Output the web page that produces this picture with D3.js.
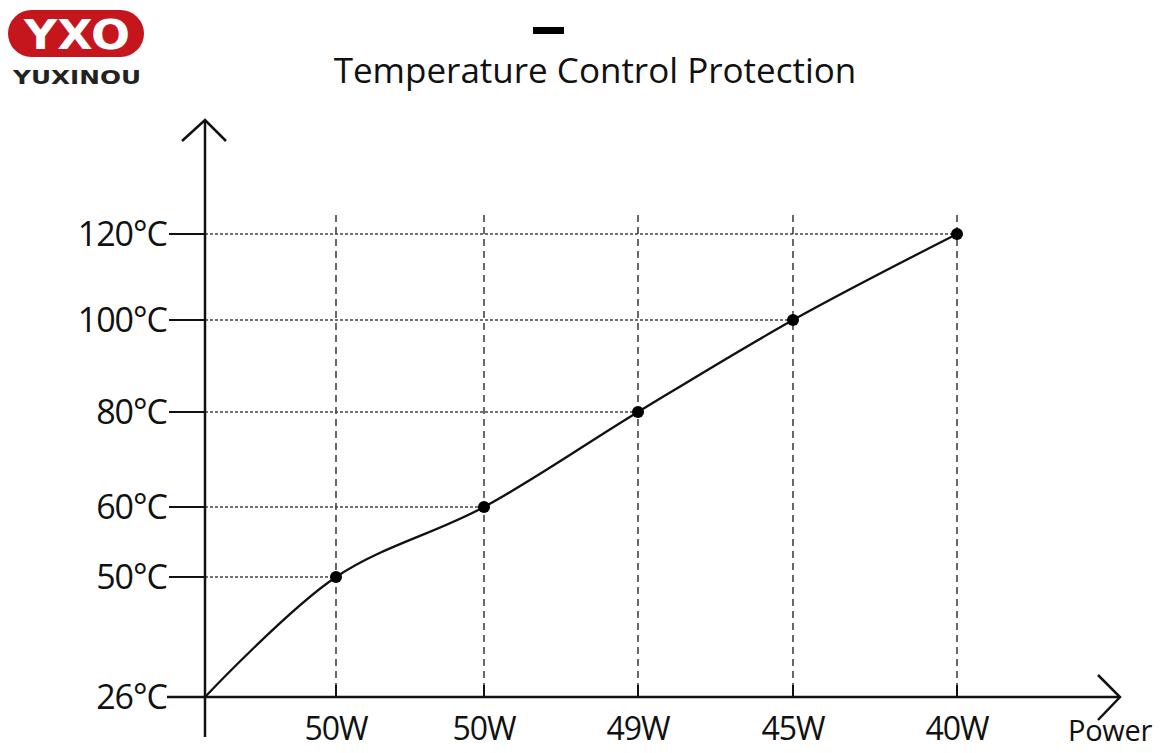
<!DOCTYPE html>
<html><head><meta charset="utf-8">
<script src="https://cdn.jsdelivr.net/npm/d3@7/dist/d3.min.js"></script>
<style>body{margin:0;background:#fff}svg{display:block}</style>
</head><body>
<svg id="c" width="1175" height="753"></svg>
<script>
// ---- data ----
const powerLabels = ["50W", "50W", "49W", "45W", "40W"];
const tempTicks = [26, 50, 60, 80, 100, 120];
const tempValues = [26, 50, 60, 80, 100, 120]; // at origin + each power step
const title = "Temperature Control Protection";

const svg = d3.select("#c");
const font = "'Open Sans','Noto Sans',sans-serif";

// scales (non-uniform spacing as in the reference)
const x = d3.scaleLinear().domain([0, 1, 2, 3, 4, 5]).range([205, 336, 484, 638, 793, 957]);
const y = d3.scaleLinear().domain(tempTicks).range([697, 577, 507, 412, 320, 234]);

// ---- logo ----
const logo = svg.append("g");
logo.append("rect").attr("x", 8).attr("y", 10).attr("width", 136).attr("height", 47).attr("rx", 23.5)
  .attr("fill", "#c4161c");
logo.append("text").attr("x", 24).attr("y", 49)
  .attr("font-family", "'DejaVu Sans',sans-serif").attr("font-weight", "bold").attr("font-size", 40)
  .attr("textLength", 106).attr("lengthAdjust", "spacingAndGlyphs").attr("fill", "#fff").text("YXO");
logo.append("text").attr("x", 13).attr("y", 84)
  .attr("font-family", "'DejaVu Sans',sans-serif").attr("font-weight", "bold").attr("font-size", 19)
  .attr("textLength", 128).attr("lengthAdjust", "spacingAndGlyphs").attr("fill", "#222").text("YUXINOU");

// ---- title ----
svg.append("rect").attr("x", 533).attr("y", 27).attr("width", 31).attr("height", 7).attr("fill", "#000");
svg.append("text").attr("x", 595).attr("y", 83).attr("text-anchor", "middle")
  .attr("font-family", font).attr("font-size", 35).attr("fill", "#111").text(title);

const pts = tempValues.map((v, i) => [x(i), y(v)]);

// ---- gridlines ----
const g = svg.append("g");
powerLabels.forEach((p, i) => {
  g.append("line").attr("x1", x(i + 1)).attr("x2", x(i + 1)).attr("y1", 215).attr("y2", y(26))
    .attr("stroke", "#444").attr("stroke-width", 1.6).attr("stroke-dasharray", "7,5");
  g.append("line").attr("x1", x(i + 1)).attr("x2", x(i + 1)).attr("y1", y(26) - 12).attr("y2", y(26))
    .attr("stroke", "#111").attr("stroke-width", 2);
});
tempValues.forEach((v, i) => {
  if (i === 0) return;
  g.append("line").attr("x1", x(0)).attr("x2", x(i)).attr("y1", y(v)).attr("y2", y(v))
    .attr("stroke", "#444").attr("stroke-width", 1.6).attr("stroke-dasharray", "3,2");
});

// ---- axes ----
const ax = svg.append("g").attr("stroke", "#111").attr("fill", "none");
ax.append("line").attr("x1", x(0)).attr("x2", x(0)).attr("y1", 121).attr("y2", 737).attr("stroke-width", 2.5);
ax.append("path").attr("d", `M182,141 L${x(0)},120 L226,141`).attr("stroke-width", 2.5);
ax.append("line").attr("x1", 167).attr("x2", 1119).attr("y1", y(26)).attr("y2", y(26)).attr("stroke-width", 2.5);
ax.append("path").attr("d", `M1098,675 L1120,${y(26)} L1098,720`).attr("stroke-width", 2.5);

tempTicks.forEach(t => {
  ax.append("line").attr("x1", 169).attr("x2", x(0)).attr("y1", y(t)).attr("y2", y(t)).attr("stroke-width", 2);
  svg.append("text").attr("x", 167).attr("y", y(t) + 12).attr("text-anchor", "end")
    .attr("font-family", font).attr("font-size", 34).attr("letter-spacing", -1).attr("fill", "#111").text(t + "°C");
});
powerLabels.forEach((p, i) => {
  svg.append("text").attr("x", x(i + 1)).attr("y", 740).attr("text-anchor", "middle")
    .attr("font-family", font).attr("font-size", 32).attr("letter-spacing", -1).attr("fill", "#111").text(p);
});
svg.append("text").attr("x", 1068).attr("y", 741)
  .attr("font-family", font).attr("font-size", 29).attr("letter-spacing", -0.3).attr("fill", "#111").text("Power");

// ---- curve ----
svg.append("path").datum(pts).attr("d", d3.line().curve(d3.curveCatmullRom.alpha(0.5)))
  .attr("fill", "none").attr("stroke", "#111").attr("stroke-width", 2.3);
svg.selectAll("circle.pt").data(pts.slice(1)).join("circle").attr("class", "pt")
  .attr("cx", d => d[0]).attr("cy", d => d[1]).attr("r", 6).attr("fill", "#000");
</script>
</body></html>
